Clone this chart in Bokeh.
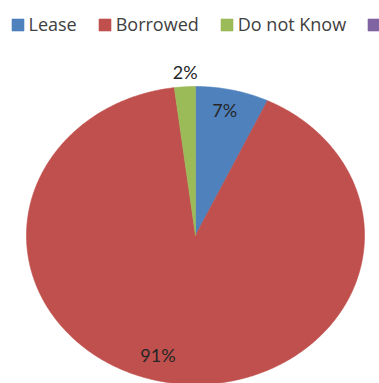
import numpy as np
from bokeh.plotting import figure
from bokeh.models import ColumnDataSource, Legend, LegendItem, Range1d
from bokeh.core.properties import value
from bokeh.embed import file_html
from bokeh.resources import INLINE

# ---- data ----
categories = ["Lease", "Borrowed", "Do not Know", "Others"]
percents = [7, 91, 2, 0]
colors = ["#4F81BD", "#C0504D", "#9BBB59", "#8064A2"]

# ---- style (label placement as radius factor and angle nudge in degrees) ----
label_radius = [0.86, 0.83, 1.10, 1.0]
label_nudge = [-1.0, 6.5, 0.4, 0.0]

W, H = 379, 383
cx_px, cy_px = 195, 235     # pie centre in pixels from top-left
rx_px, ry_px = 169, 149     # pie radii in pixels

p = figure(width=W, height=H, output_backend="svg", toolbar_location=None,
           min_border=0, outline_line_color=None,
           x_range=Range1d(-cx_px / rx_px, (W - cx_px) / rx_px),
           y_range=Range1d((cy_px - H) / ry_px, cy_px / ry_px))
p.axis.visible = False
p.grid.visible = False
p.background_fill_color = "white"
p.border_fill_color = "white"

total = float(sum(percents))
fracs = np.array(percents, dtype=float) / total
starts = np.concatenate([[0.0], np.cumsum(fracs)[:-1]])
ends = starts + fracs

xs, ys = [], []
for s, e in zip(starts, ends):
    if e - s <= 0:
        xs.append([0.0, 0.0, 0.0]); ys.append([0.0, 0.0, 0.0])
        continue
    # clockwise from 12 o'clock
    t = np.linspace(s, e, max(int((e - s) * 720), 4)) * 2 * np.pi
    xs.append([0.0] + list(np.sin(t)) + [0.0])
    ys.append([0.0] + list(np.cos(t)) + [0.0])

src = ColumnDataSource(dict(xs=xs, ys=ys, color=colors, label=categories))
r = p.patches("xs", "ys", source=src, fill_color="color", line_color="color", line_width=0.6)

# labels
lx, ly, lt = [], [], []
for i, pc in enumerate(percents):
    if pc <= 0:
        continue
    mid = (starts[i] + ends[i]) / 2 * 360 + label_nudge[i]
    a = np.deg2rad(mid)
    lx.append(label_radius[i] * np.sin(a))
    ly.append(label_radius[i] * np.cos(a))
    lt.append(f"{pc}%")
p.text(x=lx, y=ly, text=lt, text_align="center", text_baseline="middle",
       text_font=value("Lato"), text_font_size="18px", text_color="#262626")

items = [LegendItem(label=c, renderers=[r], index=i) for i, c in enumerate(categories)]
legend = Legend(items=items, orientation="horizontal", location=(9.5, H - 36),
                glyph_width=15, glyph_height=15, label_standoff=4, spacing=20,
                padding=0, margin=0, border_line_color=None, background_fill_alpha=0,
                label_text_font="Open Sans", label_text_font_size="18px",
                label_text_color="#404040", label_height=15)
p.add_layout(legend, "center")

open("out.html", "w").write(file_html(p, INLINE))
